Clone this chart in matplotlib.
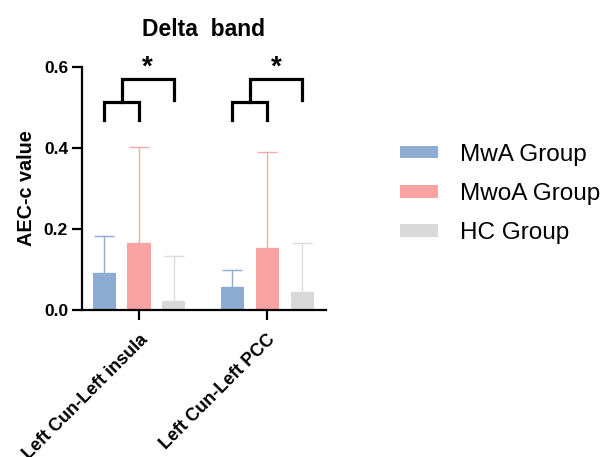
import matplotlib
matplotlib.use("Agg")
import matplotlib.pyplot as plt
import numpy as np

plt.rcParams['font.family'] = ['Liberation Sans', 'DejaVu Sans']

categories = ["Left Cun-Left insula", "Left Cun-Left PCC"]
groups = ["MwA Group", "MwoA Group", "HC Group"]
means = {
    "MwA Group": [0.091, 0.058],
    "MwoA Group": [0.165, 0.152],
    "HC Group": [0.022, 0.044],
}
err_upper = {
    "MwA Group": [0.092, 0.041],
    "MwoA Group": [0.238, 0.239],
    "HC Group": [0.111, 0.121],
}
colors = {"MwA Group": "#8DABD3", "MwoA Group": "#FBA2A2", "HC Group": "#D9D9D9"}
err_colors = {"MwA Group": "#8DABD3", "MwoA Group": "#FBA8A8", "HC Group": "#DCDCDC"}

fig = plt.figure(figsize=(6.07, 4.57), dpi=100)
ax = fig.add_axes([82/607, 1-310/457, (326-82)/607, (310-67)/457])

x = np.arange(len(categories))
offset = 0.273
width = 0.18
for i, g in enumerate(groups):
    xpos = x + (i - 1) * offset
    ax.bar(xpos, means[g], width=width, color=colors[g], edgecolor='none', label=g, zorder=2)
    ax.errorbar(xpos, means[g], yerr=[np.zeros(len(x)), err_upper[g]], fmt='none',
                ecolor=err_colors[g], elinewidth=1.0, capsize=7, capthick=1.0, zorder=1)

# significance brackets
for c in x:
    x1, x2, x3 = c - offset, c, c + offset
    lw = 2.3
    ax.plot([x1, x1, x2, x2], [0.469, 0.514, 0.514, 0.469], color='black', lw=lw,
            solid_joinstyle='miter', clip_on=False)
    xm = (x1 + x2) / 2
    ax.plot([xm, xm, x3, x3], [0.514, 0.570, 0.570, 0.518], color='black', lw=lw,
            solid_joinstyle='miter', clip_on=False)
    ax.text((xm + x3) / 2, 0.598, "*", ha='center', va='center', fontsize=20,
            fontweight='bold', clip_on=False)

ax.set_xlim(-0.445, 1.46)
ax.set_ylim(0, 0.6)
ax.set_yticks([0.0, 0.2, 0.4, 0.6])
ax.set_yticklabels(["0.0", "0.2", "0.4", "0.6"], fontsize=12.5, fontweight='bold')
ax.set_xticks(x)
ax.set_xticklabels(categories, rotation=45, ha='right', va='top', rotation_mode='anchor',
                   fontsize=13, fontweight='bold')
ax.tick_params(axis='both', length=7, width=1.6, direction='out')
ax.tick_params(axis='x', pad=8)
ax.tick_params(axis='y', pad=3)
for s in ['top', 'right']:
    ax.spines[s].set_visible(False)
for s in ['left', 'bottom']:
    ax.spines[s].set_linewidth(1.6)
ax.set_ylabel("AEC-c value", fontsize=14.3, fontweight='bold', labelpad=6)
ax.set_title("Delta  band", fontsize=16.5, fontweight='bold', pad=22)

fig.legend(loc='center left', bbox_to_anchor=(400/607, 1-194/457), frameon=False,
           fontsize=17.5, handlelength=1.57, handleheight=0.41, handletextpad=0.9,
           labelspacing=0.71, borderpad=0, borderaxespad=0)

fig.savefig("out.png", dpi=100)
